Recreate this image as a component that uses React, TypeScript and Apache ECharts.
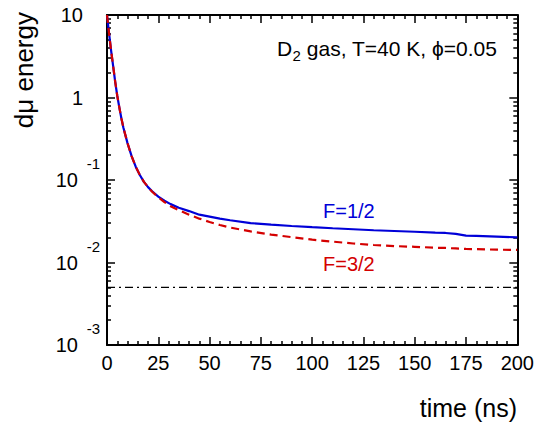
import React, { useEffect, useRef } from "react";
import * as echarts from "echarts";

const times = [0, 1, 2, 3, 4, 5, 6, 7, 8, 10, 12, 14, 16, 18, 20, 22, 25, 28, 31, 35, 40, 45, 50, 55, 60, 70, 80, 90, 100, 110, 120, 130, 140, 150, 160, 165, 170, 175, 180, 190, 200];
const f12 = [10, 6.0, 3.7, 2.4, 1.55, 1.05, 0.76, 0.56, 0.43, 0.28, 0.195, 0.145, 0.115, 0.095, 0.082, 0.073, 0.063, 0.056, 0.051, 0.046, 0.042, 0.038, 0.036, 0.034, 0.0325, 0.030, 0.0288, 0.0277, 0.0268, 0.0260, 0.0253, 0.0246, 0.0241, 0.0236, 0.0230, 0.0228, 0.0222, 0.0212, 0.0210, 0.0206, 0.0202];
const f32 = [10, 6.0, 3.7, 2.4, 1.55, 1.05, 0.76, 0.56, 0.43, 0.28, 0.195, 0.145, 0.115, 0.095, 0.082, 0.072, 0.062, 0.054, 0.048, 0.043, 0.038, 0.034, 0.031, 0.0285, 0.0265, 0.0238, 0.0218, 0.0203, 0.0189, 0.0179, 0.0170, 0.0163, 0.0158, 0.0155, 0.0151, 0.0150, 0.0148, 0.0146, 0.0145, 0.0143, 0.0142];
const refTimes = [0, 200];
const refLevel = [0.005, 0.005];
const xTicks = [0, 25, 50, 75, 100, 125, 150, 175, 200];
const yExpLabels = [0.001, 0.01, 0.1];
const yPlainLabels = [1, 10];
const yMinorTicks = [
  0.002, 0.003, 0.004, 0.005, 0.006, 0.007, 0.008, 0.009,
  0.02, 0.03, 0.04, 0.05, 0.06, 0.07, 0.08, 0.09,
  0.2, 0.3, 0.4, 0.5, 0.6, 0.7, 0.8, 0.9,
  2, 3, 4, 5, 6, 7, 8, 9,
];

const FONT = "Liberation Sans";
const BLUE = "#0000d8";
const RED = "#d40000";

export default function App() {
  const ref = useRef<HTMLDivElement>(null);
  useEffect(() => {
    if (!ref.current) return;
    const chart = echarts.init(ref.current, null, { renderer: "svg" });
    const Y_MIN = 0.001;
    const Y_MAX = 10;
    const lineOn = () => ({ show: true, onZero: false, lineStyle: { color: "#000", width: 2 } });
    const major = () => ({ show: true, inside: true, length: 8, lineStyle: { color: "#000", width: 1.5 } });
    const minorY = () => ({ show: true, inside: true, length: 4, customValues: yMinorTicks, lineStyle: { color: "#000", width: 1.5 } });
    const mkX = (pos: string, labels: boolean) => ({
      type: "value",
      position: pos,
      min: xTicks[0],
      max: xTicks[xTicks.length - 1],
      interval: 25,
      axisLine: lineOn(),
      axisTick: major(),
      minorTick: { show: true, splitNumber: 5, length: 4, lineStyle: { color: "#000", width: 1.5 } },
      splitLine: { show: false },
      axisLabel: labels
        ? { show: true, fontSize: 20, color: "#000", margin: 8, fontFamily: FONT }
        : { show: false },
    });
    const yBase = { type: "log", min: Y_MIN, max: Y_MAX, splitLine: { show: false } };
    const option = {
      animation: false,
      grid: { left: 107, right: 19, top: 15, bottom: 77 },
      xAxis: [mkX("bottom", true), mkX("top", false)],
      yAxis: [
        {
          ...yBase,
          position: "left",
          axisLine: lineOn(),
          axisTick: major(),
          axisLabel: {
            show: true,
            customValues: yExpLabels,
            formatter: () => "10",
            fontSize: 20,
            color: "#000",
            fontFamily: FONT,
            margin: 29,
          },
        },
        {
          ...yBase,
          position: "left",
          axisLine: { show: false },
          axisTick: minorY(),
          axisLabel: {
            show: true,
            customValues: yExpLabels,
            formatter: (v: number) => String(Math.round(Math.log10(v))),
            fontSize: 15,
            color: "#000",
            fontFamily: FONT,
            margin: 7,
            verticalAlign: "bottom",
            padding: [0, 0, 9, 0],
          },
        },
        {
          ...yBase,
          position: "left",
          axisLine: { show: false },
          axisTick: { show: false },
          axisLabel: {
            show: true,
            customValues: yPlainLabels,
            formatter: (v: number) => String(Math.round(v)),
            fontSize: 20,
            color: "#000",
            fontFamily: FONT,
            margin: 24,
          },
        },
        { ...yBase, position: "right", axisLine: lineOn(), axisTick: major(), axisLabel: { show: false } },
        { ...yBase, position: "right", axisLine: { show: false }, axisTick: minorY(), axisLabel: { show: false } },
      ],
      series: [
        {
          type: "line",
          name: "F=1/2",
          data: times.map((t, i) => [t, f12[i]]),
          showSymbol: false,
          symbol: "none",
          lineStyle: { color: BLUE, width: 2.2 },
        },
        {
          type: "line",
          name: "F=3/2",
          data: times.map((t, i) => [t, f32[i]]),
          showSymbol: false,
          symbol: "none",
          lineStyle: { color: RED, width: 2.2, type: [8, 5] },
        },
        {
          type: "line",
          name: "ref",
          data: refTimes.map((t, i) => [t, refLevel[i]]),
          showSymbol: false,
          symbol: "none",
          lineStyle: { color: "#000", width: 1.2, type: [8, 4, 2, 4] },
        },
      ],
      graphic: [
        {
          type: "text",
          x: 24,
          y: 12,
          rotation: Math.PI / 2,
          style: { text: "dμ energy", fontSize: 26, fontFamily: FONT, fill: "#000", align: "right", verticalAlign: "middle" },
        },
        {
          type: "text",
          x: 517,
          y: 408,
          style: { text: "time (ns)", fontSize: 25, fontFamily: FONT, fill: "#000", align: "right", verticalAlign: "middle" },
        },
        {
          type: "text",
          x: 277,
          y: 48,
          style: { text: "D", fontSize: 21, fontFamily: FONT, fill: "#000", verticalAlign: "middle" },
        },
        {
          type: "text",
          x: 292.5,
          y: 55,
          style: { text: "2", fontSize: 15, fontFamily: FONT, fill: "#000", verticalAlign: "middle" },
        },
        {
          type: "text",
          x: 301,
          y: 48,
          style: { text: " gas, T=40 K, ϕ=0.05", fontSize: 21, fontFamily: FONT, fill: "#000", verticalAlign: "middle" },
        },
        {
          type: "text",
          x: 323,
          y: 211,
          style: { text: "F=1/2", fontSize: 20, fontFamily: FONT, fill: BLUE, verticalAlign: "middle" },
        },
        {
          type: "text",
          x: 323,
          y: 264,
          style: { text: "F=3/2", fontSize: 20, fontFamily: FONT, fill: RED, verticalAlign: "middle" },
        },
      ],
    };
    chart.setOption(option as any);
    return () => chart.dispose();
  }, []);
  return (
    <div
      ref={ref}
      style={{ position: "fixed", left: 0, top: 0, width: 537, height: 422, background: "#fff" }}
    />
  );
}
